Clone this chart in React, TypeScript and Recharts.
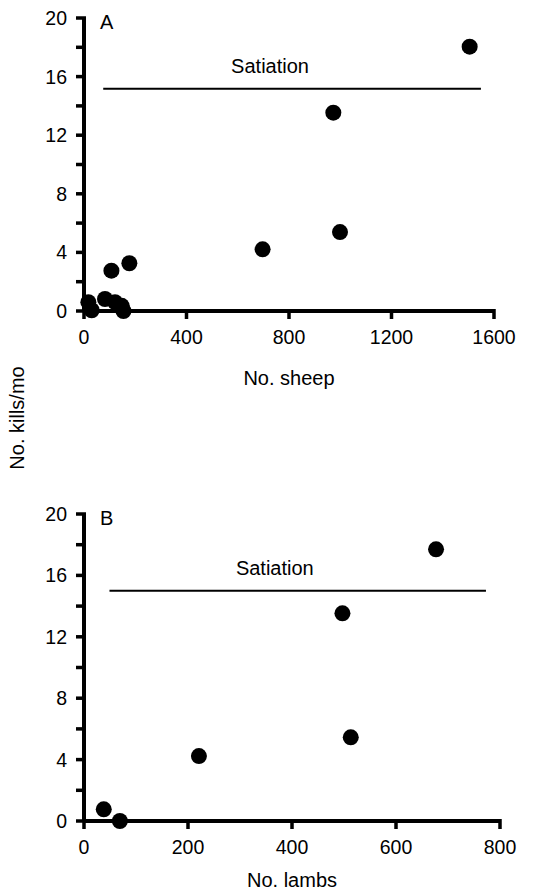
import {
  ScatterChart,
  Scatter,
  XAxis,
  YAxis,
  ReferenceLine,
  ReferenceDot,
  Label,
} from "recharts";

// panel A: kills vs number of sheep
const sheepX = [17, 30, 82, 121, 147, 154, 107, 177, 697, 999, 973, 1505];
const sheepKills = [0.6, 0.05, 0.82, 0.6, 0.35, 0, 2.75, 3.26, 4.21, 5.39, 13.54, 18.04];

// panel B: kills vs number of lambs
const lambsX = [38, 69, 221, 513, 497, 677];
const lambKills = [0.76, 0, 4.23, 5.45, 13.53, 17.7];

const killTicks = [0, 2, 4, 6, 8, 10, 12, 14, 16, 18, 20];
const sheepTicks = [0, 400, 800, 1200, 1600];
const lambTicks = [0, 200, 400, 600, 800];

const satiationA = { level: 15.17, from: 75, to: 1549, labelAt: 726 };
const satiationB = { level: 15, from: 49, to: 773, labelAt: 367 };

const FONT = "'Liberation Sans', Arial, Helvetica, sans-serif";
const TICK_LEN = 8;
const X_GAP = 11;
const Y_GAP = 9;
const INK = "#000";

const dot = (p: any) => <circle cx={p.cx} cy={p.cy} r={8} fill={INK} />;

// tick marks drawn by hand so they come out heavy like the print
const XTick = (p: any) => (
  <g>
    <rect
      x={p.x - 1.75}
      y={p.y - TICK_LEN - X_GAP - 2}
      width={3.5}
      height={TICK_LEN + 2}
      fill={INK}
    />
    <text
      x={p.x}
      y={p.y}
      dy="0.71em"
      textAnchor="middle"
      fill={INK}
      fontSize={19.5}
      fontFamily={FONT}
    >
      {p.payload.value}
    </text>
  </g>
);

const YTick = (p: any) => (
  <g>
    <rect
      x={p.x + Y_GAP}
      y={p.y - 1.75}
      width={TICK_LEN + 2}
      height={3.5}
      fill={INK}
    />
    {p.payload.value % 4 === 0 && (
      <text
        x={p.x}
        y={p.y}
        dy="0.36em"
        textAnchor="end"
        fill={INK}
        fontSize={19.5}
        fontFamily={FONT}
      >
        {p.payload.value}
      </text>
    )}
  </g>
);

interface PanelProps {
  xs: number[];
  ys: number[];
  xTicks: number[];
  xName: string;
  sat: { level: number; from: number; to: number; labelAt: number };
  height: number;
  margin: { top: number; right: number; left: number; bottom: number };
  xAxisHeight: number;
  xLabelOffset: number;
}

function Panel({ xs, ys, xTicks, xName, sat, height, margin, xAxisHeight, xLabelOffset }: PanelProps) {
  const data = xs.map((x, i) => ({ x, y: ys[i] }));
  const xMax = xTicks[xTicks.length - 1];
  return (
    <ScatterChart width={533} height={height} margin={margin}>
      <XAxis
        type="number"
        dataKey="x"
        domain={[0, xMax]}
        ticks={xTicks}
        interval={0}
        height={xAxisHeight}
        tick={XTick}
        axisLine={false}
        tickLine={false}
        tickSize={TICK_LEN}
        tickMargin={X_GAP}
      >
        <Label
          value={xName}
          position="insideBottom"
          offset={xLabelOffset}
          style={{ fill: INK, fontSize: 20, fontFamily: FONT }}
        />
      </XAxis>
      <YAxis
        type="number"
        dataKey="y"
        domain={[0, 20]}
        ticks={killTicks}
        interval={0}
        width={84}
        tick={YTick}
        axisLine={false}
        tickLine={false}
        tickSize={TICK_LEN}
        tickMargin={Y_GAP}
      />
      <ReferenceLine x={0} stroke={INK} strokeWidth={4} />
      <ReferenceLine y={0} stroke={INK} strokeWidth={4} />
      <ReferenceLine
        segment={[
          { x: sat.from, y: sat.level },
          { x: sat.to, y: sat.level },
        ]}
        stroke={INK}
        strokeWidth={2}
      />
      <ReferenceDot
        x={sat.labelAt}
        y={sat.level}
        r={0}
        fill="none"
        stroke="none"
        label={{
          value: "Satiation",
          position: "top",
          offset: 16,
          fill: INK,
          fontSize: 20,
          fontFamily: FONT,
        }}
      />
      <Scatter data={data} shape={dot} isAnimationActive={false} />
    </ScatterChart>
  );
}

export default function App() {
  return (
    <div
      style={{
        position: "absolute",
        left: 0,
        top: 0,
        width: 533,
        height: 896,
        background: "#fff",
        fontFamily: FONT,
      }}
    >
      <div style={{ position: "absolute", left: 0, top: 0 }}>
        <Panel
          xs={sheepX}
          ys={sheepKills}
          xTicks={sheepTicks}
          xName="No. sheep"
          sat={satiationA}
          height={400}
          margin={{ top: 18, right: 39, left: 0, bottom: 9 }}
          xAxisHeight={80}
          xLabelOffset={6}
        />
      </div>
      <div style={{ position: "absolute", left: 0, top: 440 }}>
        <Panel
          xs={lambsX}
          ys={lambKills}
          xTicks={lambTicks}
          xName="No. lambs"
          sat={satiationB}
          height={456}
          margin={{ top: 74, right: 33, left: 0, bottom: 0 }}
          xAxisHeight={75}
          xLabelOffset={9}
        />
      </div>
      <svg
        width={533}
        height={896}
        style={{ position: "absolute", left: 0, top: 0, pointerEvents: "none" }}
      >
        <text x={100} y={29} fontSize={20} fontFamily={FONT} fill={INK}>
          A
        </text>
        <text x={100} y={525} fontSize={20} fontFamily={FONT} fill={INK}>
          B
        </text>
        <text
          x={0}
          y={0}
          transform="translate(24 418) rotate(-90)"
          textAnchor="middle"
          fontSize={20}
          fontFamily={FONT}
          fill={INK}
        >
          No. kills/mo
        </text>
      </svg>
    </div>
  );
}
